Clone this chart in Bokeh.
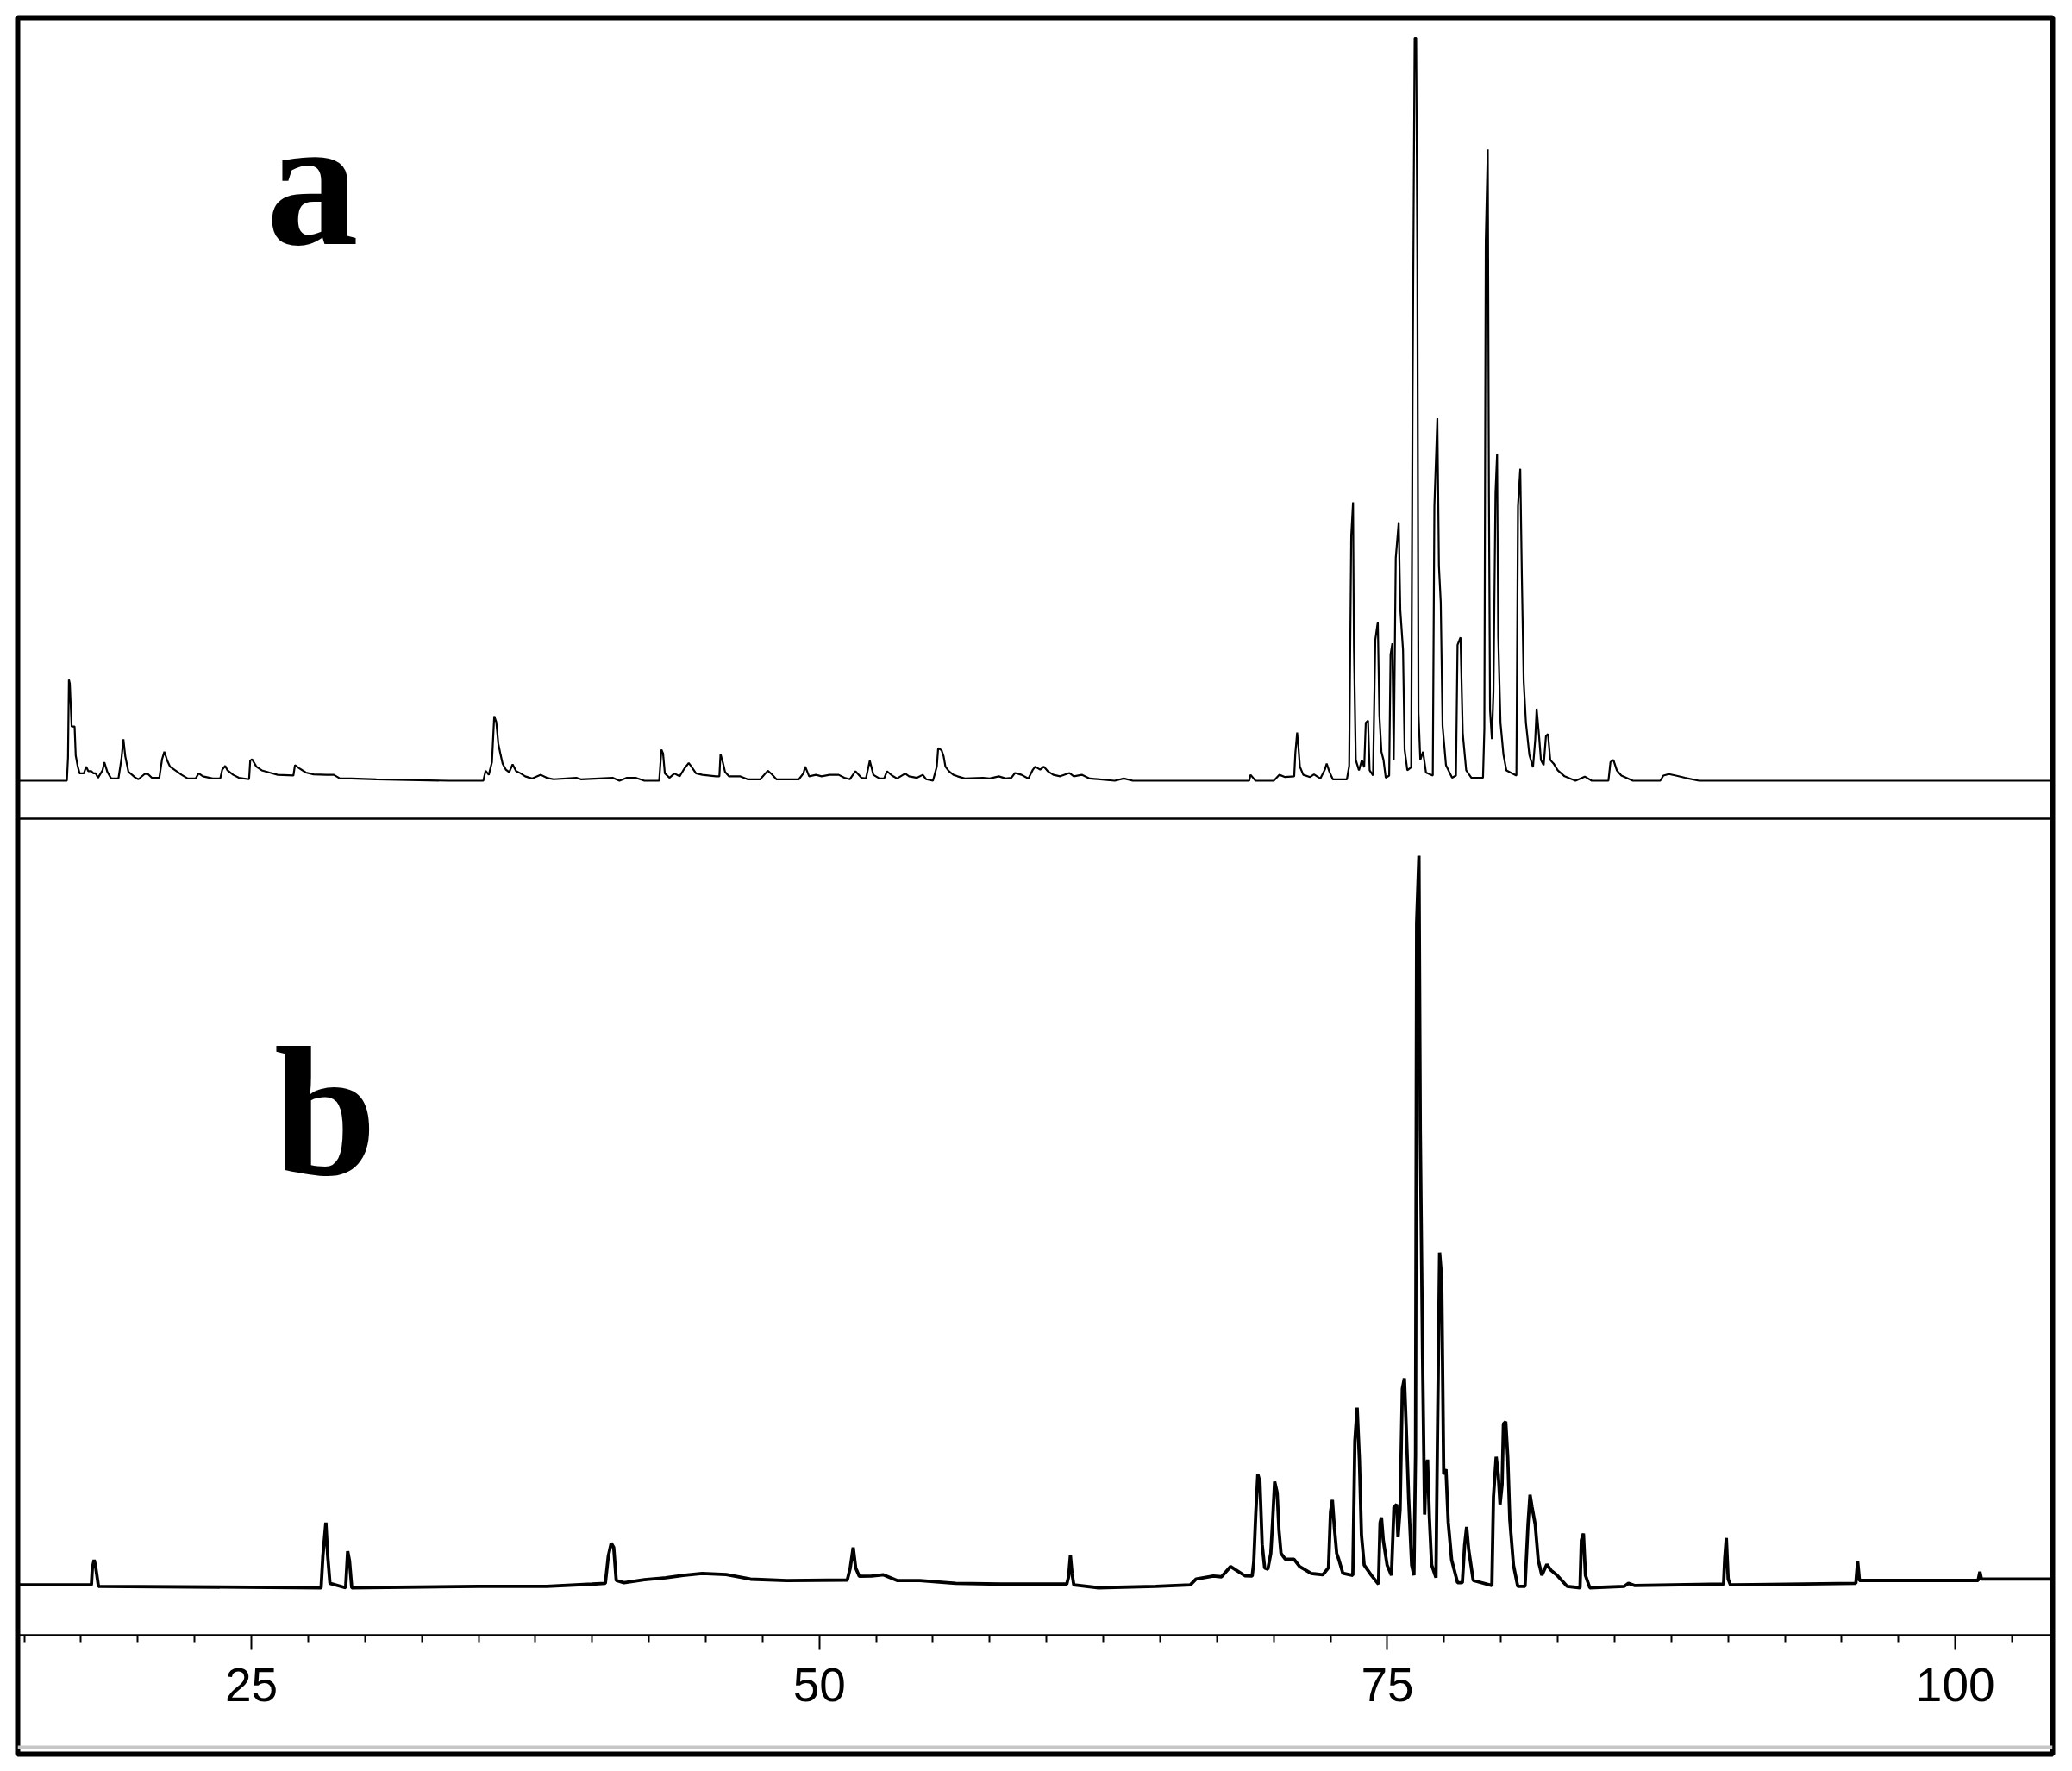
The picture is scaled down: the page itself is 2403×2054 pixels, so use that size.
from bokeh.plotting import figure
from bokeh.models import FixedTicker, Span, Range1d, ColumnDataSource
from bokeh.core.properties import value
from bokeh.embed import file_html
from bokeh.resources import INLINE

# ---------------- data ----------------
# spectrum a : chemical shift (ppm) and relative intensity (tallest peak = 1)
a_ppm = [14.70, 16.88, 16.93, 16.97, 17.01, 17.09, 17.22, 17.27, 17.36, 17.44, 17.63, 17.73, 17.82, 17.95,
         18.05, 18.15, 18.25, 18.45, 18.53, 18.66, 18.83, 19.15, 19.28, 19.37, 19.45, 19.59, 19.75, 19.90,
         20.03, 20.30, 20.45, 20.62, 20.95, 21.07, 21.17, 21.30, 21.42, 21.65, 21.93, 22.20, 22.55, 22.68,
         22.87, 23.30, 23.63, 23.72, 23.85, 23.95, 24.20, 24.45, 24.90, 24.95, 25.03, 25.22, 25.46, 25.80,
         26.16, 26.85, 26.92, 27.10, 27.40, 27.74, 28.30, 28.63, 28.90, 29.40, 30.50, 33.70, 35.21, 35.31,
         35.45, 35.59, 35.69, 35.78, 35.87, 35.97, 36.06, 36.20, 36.35, 36.50, 36.65, 36.85, 37.05, 37.35,
         37.74, 38.00, 38.30, 39.30, 39.50, 40.90, 41.20, 41.53, 41.91, 42.30, 42.95, 43.05, 43.12, 43.20,
         43.40, 43.62, 43.85, 44.05, 44.25, 44.37, 44.57, 44.85, 45.45, 45.60, 45.65, 45.75, 45.85, 46.02,
         46.50, 46.84, 47.40, 47.73, 47.90, 48.11, 49.10, 49.30, 49.38, 49.55, 49.85, 50.10, 50.45, 50.85,
         51.10, 51.34, 51.59, 51.85, 52.05, 52.22, 52.38, 52.65, 52.85, 52.98, 53.20, 53.42, 53.78, 53.95,
         54.30, 54.55, 54.70, 55.00, 55.17, 55.23, 55.38, 55.47, 55.55, 55.70, 55.90, 56.08, 56.40, 57.20,
         57.50, 57.90, 58.20, 58.45, 58.61, 58.90, 59.20, 59.40, 59.50, 59.72, 59.88, 60.05, 60.30, 60.60,
         61.01, 61.20, 61.55, 61.90, 63.00, 63.40, 63.80, 67.00, 68.92, 68.98, 69.20, 70.00, 70.25, 70.50,
         70.90, 70.95, 71.03, 71.09, 71.15, 71.30, 71.60, 71.77, 72.05, 72.25, 72.33, 72.45, 72.60, 73.22,
         73.32, 73.41, 73.49, 73.53, 73.61, 73.75, 73.88, 73.98, 74.05, 74.15, 74.22, 74.37, 74.47, 74.58,
         74.65, 74.74, 74.83, 74.93, 75.08, 75.14, 75.22, 75.28, 75.37, 75.50, 75.57, 75.69, 75.76, 75.88,
         76.05, 76.11, 76.20, 76.27, 76.32, 76.37, 76.45, 76.57, 76.70, 77.00, 77.07, 77.20, 77.27, 77.35,
         77.43, 77.58, 77.85, 78.02, 78.09, 78.22, 78.32, 78.47, 78.70, 79.21, 79.27, 79.33, 79.42, 79.47,
         79.52, 79.60, 79.67, 79.76, 79.83, 79.88, 79.98, 80.11, 80.24, 80.68, 80.75, 80.85, 80.92, 81.00,
         81.10, 81.25, 81.41, 81.51, 81.57, 81.67, 81.76, 81.88, 81.98, 82.07, 82.17, 82.32, 82.50, 82.80,
         83.28, 83.69, 84.00, 84.73, 84.82, 84.95, 85.10, 85.30, 85.81, 87.01, 87.15, 87.39, 87.70, 88.10,
         88.72, 104.30]
a_int = [0.0, 0.0, 0.031, 0.136, 0.131, 0.073, 0.073, 0.034, 0.019, 0.010, 0.010, 0.019, 0.013, 0.013,
         0.010, 0.010, 0.004, 0.014, 0.025, 0.012, 0.003, 0.003, 0.029, 0.056, 0.033, 0.012, 0.008, 0.004,
         0.002, 0.009, 0.009, 0.004, 0.004, 0.029, 0.039, 0.027, 0.019, 0.014, 0.008, 0.003, 0.003, 0.010,
         0.006, 0.003, 0.003, 0.015, 0.020, 0.014, 0.008, 0.004, 0.002, 0.027, 0.029, 0.019, 0.014, 0.011,
         0.008, 0.007, 0.021, 0.017, 0.011, 0.0085, 0.008, 0.008, 0.003, 0.003, 0.002, 0.0, 0.0, 0.0135,
         0.008, 0.025, 0.087, 0.079, 0.050, 0.035, 0.023, 0.015, 0.0116, 0.022, 0.013, 0.010, 0.006, 0.003,
         0.008, 0.004, 0.002, 0.004, 0.002, 0.004, 0.0, 0.004, 0.004, 0.0, 0.0, 0.042, 0.037, 0.010,
         0.004, 0.0097, 0.006, 0.016, 0.024, 0.019, 0.010, 0.008, 0.006, 0.006, 0.036, 0.025, 0.012, 0.006,
         0.006, 0.002, 0.002, 0.0135, 0.009, 0.002, 0.002, 0.010, 0.019, 0.006, 0.008, 0.006, 0.008, 0.008,
         0.004, 0.002, 0.0128, 0.004, 0.003, 0.027, 0.008, 0.003, 0.003, 0.0128, 0.007, 0.003, 0.0097, 0.006,
         0.004, 0.008, 0.002, 0.0, 0.019, 0.044, 0.041, 0.033, 0.019, 0.013, 0.008, 0.006, 0.003, 0.004,
         0.003, 0.006, 0.003, 0.004, 0.0104, 0.008, 0.003, 0.015, 0.019, 0.015, 0.019, 0.013, 0.008, 0.006,
         0.0104, 0.006, 0.008, 0.003, 0.0, 0.003, 0.0, 0.0, 0.0, 0.008, 0.0, 0.0, 0.008, 0.005,
         0.006, 0.037, 0.065, 0.044, 0.019, 0.008, 0.005, 0.0085, 0.003, 0.015, 0.023, 0.012, 0.002, 0.002,
         0.020, 0.330, 0.375, 0.180, 0.028, 0.014, 0.028, 0.018, 0.078, 0.081, 0.014, 0.007, 0.190, 0.214,
         0.088, 0.039, 0.028, 0.004, 0.007, 0.170, 0.185, 0.028, 0.300, 0.348, 0.230, 0.176, 0.042, 0.014,
         0.018, 0.515, 1.0, 1.0, 0.700, 0.092, 0.028, 0.039, 0.011, 0.007, 0.370, 0.488, 0.289, 0.240,
         0.074, 0.021, 0.004, 0.007, 0.183, 0.193, 0.063, 0.014, 0.004, 0.004, 0.070, 0.726, 0.850, 0.388,
         0.095, 0.056, 0.120, 0.388, 0.440, 0.194, 0.078, 0.035, 0.014, 0.007, 0.370, 0.420, 0.275, 0.134,
         0.078, 0.035, 0.018, 0.056, 0.097, 0.063, 0.028, 0.021, 0.060, 0.063, 0.028, 0.023, 0.014, 0.006,
         0.0, 0.0056, 0.0, 0.0, 0.025, 0.028, 0.014, 0.007, 0.0, 0.0, 0.007, 0.009, 0.007, 0.004,
         0.0, 0.0]

# spectrum b
b_ppm = [14.70, 17.96, 18.00, 18.08, 18.14, 18.27, 28.07, 28.15, 28.28, 28.36, 28.46, 29.15, 29.24, 29.32,
         29.42, 35.00, 38.00, 40.00, 40.58, 40.71, 40.84, 40.95, 41.06, 41.40, 42.30, 43.24, 44.00, 44.84,
         45.90, 46.97, 48.57, 51.23, 51.36, 51.49, 51.60, 51.76, 52.30, 52.82, 53.42, 54.42, 56.00, 58.00,
         60.89, 60.97, 61.05, 61.12, 61.20, 62.28, 64.81, 66.33, 66.58, 67.34, 67.70, 68.10, 68.35, 68.73,
         69.05, 69.12, 69.21, 69.30, 69.39, 69.49, 69.60, 69.74, 69.87, 69.95, 70.04, 70.15, 70.23, 70.32,
         70.51, 70.89, 71.14, 71.65, 72.16, 72.41, 72.50, 72.58, 72.67, 72.77, 72.85, 73.04, 73.48, 73.57,
         73.67, 73.77, 73.86, 73.98, 74.30, 74.61, 74.68, 74.74, 74.82, 74.99, 75.18, 75.29, 75.41, 75.47,
         75.56, 75.66, 75.75, 75.83, 75.94, 76.07, 76.17, 76.24, 76.29, 76.39, 76.45, 76.55, 76.64, 76.70,
         76.77, 76.85, 76.95, 77.14, 77.20, 77.30, 77.39, 77.48, 77.58, 77.68, 77.83, 78.09, 78.30, 78.40,
         78.49, 78.58, 78.78, 79.60, 79.67, 79.79, 79.88, 79.96, 80.05, 80.11, 80.21, 80.30, 80.39, 80.55,
         80.74, 81.06, 81.19, 81.28, 81.37, 81.51, 81.64, 81.80, 82.02, 82.20, 82.47, 82.91, 83.48, 83.54,
         83.63, 83.72, 83.91, 85.43, 85.61, 85.90, 89.80, 89.85, 89.92, 90.00, 90.10, 95.62, 95.70, 95.78,
         101.00, 101.08, 101.15, 104.30]
b_int = [0.004, 0.004, 0.027, 0.038, 0.030, 0.002, 0.0, 0.044, 0.089, 0.044, 0.006, 0.0, 0.050, 0.037,
         0.0, 0.002, 0.002, 0.005, 0.006, 0.043, 0.061, 0.055, 0.010, 0.007, 0.011, 0.0137, 0.017, 0.0196,
         0.018, 0.0118, 0.0098, 0.0106, 0.027, 0.055, 0.027, 0.0157, 0.016, 0.0177, 0.010, 0.0098, 0.006, 0.005,
         0.005, 0.015, 0.044, 0.020, 0.004, 0.0, 0.002, 0.004, 0.012, 0.016, 0.015, 0.029, 0.024, 0.0165,
         0.016, 0.035, 0.102, 0.155, 0.145, 0.059, 0.027, 0.0255, 0.047, 0.090, 0.145, 0.130, 0.0785, 0.047,
         0.039, 0.039, 0.029, 0.0196, 0.0177, 0.0275, 0.104, 0.120, 0.082, 0.047, 0.040, 0.020, 0.017, 0.200,
         0.246, 0.175, 0.072, 0.031, 0.017, 0.005, 0.089, 0.096, 0.065, 0.031, 0.017, 0.110, 0.114, 0.069,
         0.107, 0.272, 0.286, 0.220, 0.120, 0.031, 0.017, 0.182, 0.908, 1.0, 0.623, 0.317, 0.100, 0.160,
         0.175, 0.096, 0.031, 0.014, 0.190, 0.458, 0.423, 0.155, 0.162, 0.089, 0.038, 0.007, 0.007, 0.058,
         0.083, 0.052, 0.010, 0.003, 0.124, 0.179, 0.155, 0.114, 0.141, 0.224, 0.227, 0.179, 0.093, 0.031,
         0.002, 0.002, 0.086, 0.127, 0.110, 0.086, 0.038, 0.017, 0.032, 0.024, 0.017, 0.002, 0.0, 0.065,
         0.074, 0.017, 0.0, 0.002, 0.006, 0.003, 0.005, 0.040, 0.068, 0.012, 0.004, 0.006, 0.036, 0.010,
         0.010, 0.022, 0.012, 0.012]

major_ticks = [25, 50, 75, 100]
minor_ticks = [15.0, 17.5, 20.0, 22.5, 27.5, 30.0, 32.5, 35.0, 37.5, 40.0, 42.5, 45.0, 47.5,
               52.5, 55.0, 57.5, 60.0, 62.5, 65.0, 67.5, 70.0, 72.5, 77.5, 80.0, 82.5, 85.0,
               87.5, 90.0, 92.5, 95.0, 97.5, 102.5]
panel_labels = ["a", "b"]

# ---------------- layout constants ----------------
X0, X1 = 14.715, 104.28
FRAME_W, FRAME_H = 2360, 2014
A_BASE, A_SCALE = 1129.0, 861.5
B_BASE, B_SCALE = 193.0, 849.0

p = figure(frame_width=FRAME_W, frame_height=FRAME_H,
           x_range=Range1d(X0, X1), y_range=Range1d(0, FRAME_H),
           output_backend="svg", toolbar_location=None, y_axis_type=None,
           min_border_left=20, min_border_right=12, min_border_top=20, min_border_bottom=10)
p.background_fill_color = "white"
p.border_fill_color = "white"
p.outline_line_color = "black"
p.outline_line_width = 6
p.grid.visible = False

src_a = ColumnDataSource(dict(x=a_ppm, y=[A_BASE + v * A_SCALE for v in a_int]))
src_b = ColumnDataSource(dict(x=b_ppm, y=[B_BASE + v * B_SCALE for v in b_int]))
p.line("x", "y", source=src_a, line_color="black", line_width=2.2)
p.line("x", "y", source=src_b, line_color="black", line_width=3.8)

# separator between the two panels and faint grey line near the bottom
p.add_layout(Span(location=1085, dimension="width", line_color="black", line_width=2.5))
p.add_layout(Span(location=7.7, dimension="width", line_color="#c6c6c6", line_width=4.5))

# panel letters
p.text(x=[25.65, 26.0], y=[1824, 745], text=panel_labels,
       text_font=value("Liberation Serif"), text_font_style="bold",
       text_font_size=value("214px"), text_color="black",
       text_align="left", text_baseline="alphabetic")

# x axis drawn inside the frame
ax = p.xaxis[0]
ax.fixed_location = 138
ax.ticker = FixedTicker(ticks=major_ticks, minor_ticks=minor_ticks)
ax.axis_line_width = 2.6
ax.axis_line_color = "black"
ax.major_tick_in = 0
ax.major_tick_out = 17
ax.minor_tick_in = 0
ax.minor_tick_out = 8
ax.major_tick_line_width = 2
ax.minor_tick_line_width = 2
ax.major_tick_line_color = "black"
ax.minor_tick_line_color = "black"
ax.major_label_text_font = "Liberation Sans"
ax.major_label_text_font_size = "55px"
ax.major_label_text_color = "black"
ax.major_label_standoff = 21

open("out.html", "w").write(file_html(p, INLINE))
